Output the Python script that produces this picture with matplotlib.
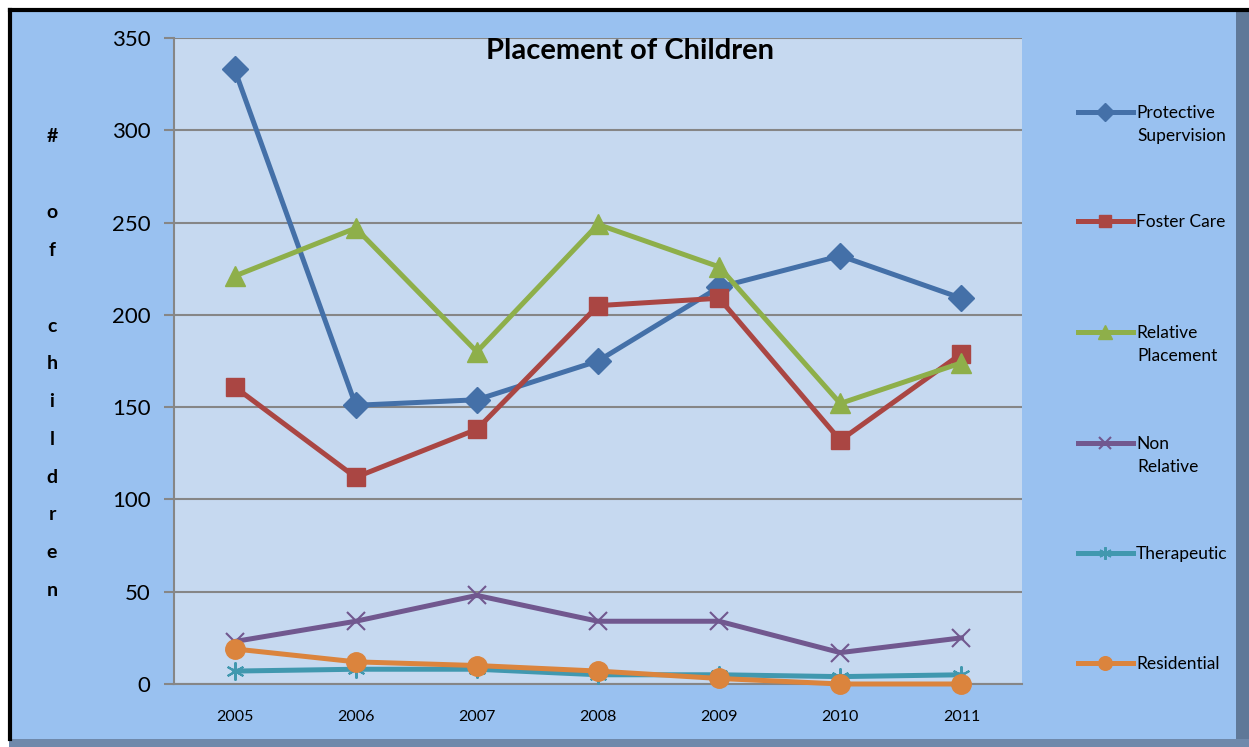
import matplotlib
matplotlib.use("Agg")
import matplotlib.pyplot as plt
from matplotlib.patches import Rectangle
from matplotlib.lines import Line2D

plt.rcParams['font.family'] = ['Lato', 'DejaVu Sans']

years = ["2005", "2006", "2007", "2008", "2009", "2010", "2011"]
protective = [333, 151, 154, 175, 215, 232, 209]
foster = [161, 112, 138, 205, 209, 132, 179]
relative = [221, 247, 180, 249, 226, 152, 174]
non_relative = [23, 34, 48, 34, 34, 17, 25]
therapeutic = [7, 8, 8, 5, 5, 4, 5]
residential = [19, 12, 10, 7, 3, 0, 0]

series = [
    ("Protective\nSupervision", protective, "#4470A8", "D", 13),
    ("Foster Care", foster, "#AA4643", "s", 13),
    ("Relative\nPlacement", relative, "#8EAF4A", "^", 14),
    ("Non\nRelative", non_relative, "#71588F", "x", 13),
    ("Therapeutic", therapeutic, "#4198AF", (6, 2, 0), 13),
    ("Residential", residential, "#DB843D", "o", 14),
]

W, H = 1249, 747
fig = plt.figure(figsize=(W / 100, H / 100), dpi=100)
fig.patch.set_facecolor("#99C1F0")

# frame: shadow on right/bottom, black on left/top
fig.patches.append(Rectangle((1236 / W, 0), 13 / W, 1 - 10 / H, transform=fig.transFigure,
                             facecolor="#5F7898", edgecolor="none", zorder=9))
fig.patches.append(Rectangle((0, 0), 1, 8 / H, transform=fig.transFigure,
                             facecolor="#6F89AB", edgecolor="none", zorder=9))
fig.patches.append(Rectangle((0, 0), 9 / W, 1, transform=fig.transFigure,
                             facecolor="white", edgecolor="none", zorder=9))
fig.patches.append(Rectangle((0, 1 - 8 / H), 1, 8 / H, transform=fig.transFigure,
                             facecolor="white", edgecolor="none", zorder=9))
fig.add_artist(Line2D([10 / W, 10 / W], [8 / H, 1 - 10 / H], transform=fig.transFigure,
                      color="black", linewidth=3, zorder=10))
fig.add_artist(Line2D([10 / W, 1], [1 - 10 / H, 1 - 10 / H], transform=fig.transFigure,
                      color="black", linewidth=3, zorder=10))

ax = fig.add_axes([174 / W, 1 - 684 / H, (1022 - 174) / W, (684 - 38) / H])
ax.set_facecolor("#C6D9F0")

x = list(range(len(years)))
handles = []
for label, vals, color, marker, ms in series:
    mew = 1.5 if marker == "x" or isinstance(marker, tuple) else 1
    ln, = ax.plot(x, vals, color=color, linewidth=3.6, marker=marker, markersize=ms,
                  markeredgewidth=mew, markeredgecolor=color, markerfacecolor=color,
                  label=label, clip_on=False, zorder=3)
    handles.append(ln)

ax.set_xlim(-0.5, 6.5)
ax.set_ylim(0, 350)
ax.set_yticks(range(0, 351, 50))
ax.set_xticks(x)
ax.set_xticklabels(years, fontsize=11.5)
ax.tick_params(axis='y', labelsize=16, length=7, color="#868686", width=1.5, pad=10)
ax.tick_params(axis='x', length=0, pad=19)
ax.grid(axis='y', color="#868686", linewidth=1.5, zorder=1)
ax.set_axisbelow(True)
for s in ("top", "right"):
    ax.spines[s].set_visible(False)
for s in ("left", "bottom"):
    ax.spines[s].set_color("#868686")
    ax.spines[s].set_linewidth(1.5)

fig.text(630 / W, 1 - 51 / H, "Placement of Children",
         ha="center", va="center", fontsize=21, fontweight="bold")

# vertical y label
ylab = ["#", "", "o", "f", "", "c", "h", "i", "l", "d", "r", "e", "n"]
y0, step = 137, 37.8
for i, ch in enumerate(ylab):
    if ch:
        fig.text(52 / W, 1 - (y0 + i * step) / H, ch, ha="center", va="center",
                 fontsize=14, fontweight="bold")

# legend: one entry per block, handle aligned with first text line
leg_y = [113, 222, 333, 444, 554, 664]
for h, (label, vals, color, marker, ms), yy in zip(handles, series, leg_y):
    lines = label.split("\n")
    fig.legend([h], [lines[0]], loc="center left",
               bbox_to_anchor=(1078 / W, 1 - yy / H), frameon=False,
               fontsize=12.5, handlelength=3.15, handletextpad=0.2,
               markerscale=0.7, borderpad=0, borderaxespad=0)
    for j, extra in enumerate(lines[1:], start=1):
        fig.text(1137 / W, 1 - (yy + 23 * j) / H, extra, ha="left", va="center",
                 fontsize=12.5)

fig.savefig("out.png", dpi=100, facecolor=fig.get_facecolor())
